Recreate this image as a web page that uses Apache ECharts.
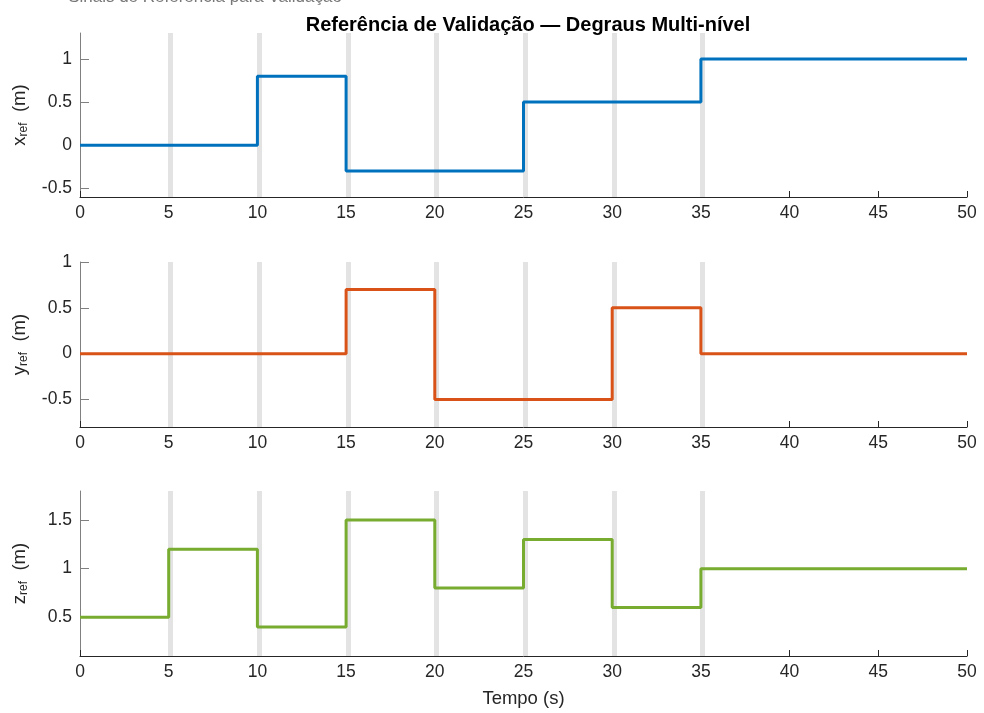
<!DOCTYPE html>
<html><head><meta charset="utf-8">
<script src="https://cdn.jsdelivr.net/npm/echarts@6/dist/echarts.min.js"></script>
<style>html,body{margin:0;padding:0;background:#fff}#c{width:984px;height:713px}</style>
</head><body><div id="c"></div>
<script>
// Step change times (s) and held values (value holds from time[i] to time[i+1])
const stepTimes = [0, 5, 10, 15, 20, 25, 30, 35, 50];
const xRef = [0, 0, 0.8, -0.3, -0.3, 0.5, 0.5, 1, 1];
const yRef = [0, 0, 0, 0.7, -0.5, -0.5, 0.5, 0, 0];
const zRef = [0.5, 1.2, 0.4, 1.5, 0.8, 1.3, 0.6, 1, 1];
const bandTimes = [5.1, 10.1, 15.1, 20.1, 25.1, 30.1, 35.1];
const xTicks = [0, 5, 10, 15, 20, 25, 30, 35, 40, 45, 50];
const yTicksX = [-0.5, 0, 0.5, 1];
const yTicksY = [-0.5, 0, 0.5, 1];
const yTicksZ = [0.5, 1, 1.5];
const colors = ['#0072BD', '#D95319', '#77AC30'];
const titleText = 'Referência de Validação — Degraus Multi-nível';
const superTitle = 'Sinais de Referência para Validação';
const xLabel = 'Tempo (s)';
const yNames = ['x', 'y', 'z'];

const font = 'Liberation Sans, Arial, Helvetica, sans-serif';
const grids = [
  {left: 80, right: 17, top: 33, height: 164},
  {left: 80, right: 17, top: 262, height: 165},
  {left: 80, right: 17, top: 491, height: 165}
];
const yRanges = [[-0.6, 1.3], [-0.8, 1], [0.1, 1.8]];
const yTicks = [yTicksX, yTicksY, yTicksZ];
const series = [xRef, yRef, zRef];

const xAxes = grids.map((g, i) => ({
  gridIndex: i, type: 'value', min: 0, max: 50, interval: 5,
  axisLine: {onZero: false, lineStyle: {color: '#262626', width: 1}},
  axisTick: {inside: true, length: 6, lineStyle: {color: '#262626'}},
  axisLabel: {color: '#262626', fontSize: 17.5, fontFamily: font, margin: 7, customValues: xTicks},
  splitLine: {show: false},
  name: i === 2 ? xLabel : '', nameLocation: 'middle', nameGap: 33,
  nameTextStyle: {color: '#262626', fontSize: 18.5, fontFamily: font}
}));
const yAxes = grids.map((g, i) => ({
  gridIndex: i, type: 'value', min: yRanges[i][0], max: yRanges[i][1],
  axisLine: {show: true, onZero: false, lineStyle: {color: '#808080', width: 1}},
  axisTick: {show: true, inside: true, length: 9, lineStyle: {color: '#808080'}, customValues: yTicks[i]},
  axisLabel: {color: '#262626', fontSize: 17.5, fontFamily: font, margin: 8, customValues: yTicks[i]},
  splitLine: {show: false},
  name: '{a|' + yNames[i] + '}{s|ref}{a|  (m)}',
  nameLocation: 'middle', nameRotate: 90, nameGap: 50,
  nameTextStyle: {
    color: '#262626', fontFamily: font,
    rich: {
      a: {fontSize: 18.5, fontFamily: font, color: '#262626'},
      s: {fontSize: 12, fontFamily: font, color: '#262626', verticalAlign: 'bottom', padding: [9, 0, 0, 0]}
    }
  }
}));

const seriesList = [];
series.forEach((vals, i) => {
  seriesList.push({
    type: 'line', xAxisIndex: i, yAxisIndex: i, data: [], z: 1, silent: true,
    markLine: {
      silent: true, symbol: 'none', animation: false,
      label: {show: false},
      lineStyle: {color: '#e3e3e3', width: 5, type: 'solid'},
      data: bandTimes.map(t => ({xAxis: t}))
    }
  });
  seriesList.push({
    type: 'line', xAxisIndex: i, yAxisIndex: i, step: 'end', z: 5,
    showSymbol: false, symbol: 'none', animation: false,
    lineStyle: {color: colors[i], width: 3},
    data: stepTimes.map((t, k) => [t, vals[k]])
  });
});

const chart = echarts.init(document.getElementById('c'), null, {renderer: 'canvas'});
chart.setOption({
  backgroundColor: '#ffffff',
  animation: false,
  title: [
    {text: titleText, left: 523, textAlign: 'center', top: 10,
     textStyle: {fontSize: 20, fontWeight: 'bold', color: '#000', fontFamily: font}},
    {text: superTitle, left: 200, textAlign: 'center', top: -16,
     textStyle: {fontSize: 17, fontWeight: 'normal', color: '#777', fontFamily: font}}
  ],
  grid: grids,
  xAxis: xAxes,
  yAxis: yAxes,
  series: seriesList
});
</script></body></html>
